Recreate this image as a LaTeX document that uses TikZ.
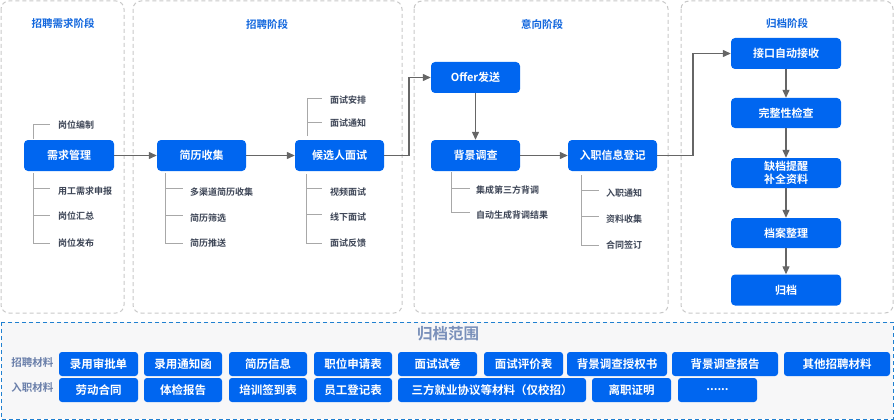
\documentclass[tikz,border=0pt]{standalone}
\usepackage{fontspec}
\setmainfont{Noto Sans CJK SC}[BoldFont={Noto Sans CJK SC Bold}]
\usetikzlibrary{arrows.meta,calc}
\definecolor{boxblue}{HTML}{0066F0}
\definecolor{titleblue}{HTML}{1166DD}
\definecolor{conngray}{HTML}{666666}
\definecolor{treegray}{HTML}{A8A8A8}
\definecolor{subtext}{HTML}{3D4556}
\definecolor{panelgray}{HTML}{C8C8C8}
\definecolor{scopeblue}{HTML}{2080D0}
\definecolor{scopefill}{HTML}{F7F7F8}
\definecolor{scopetitle}{HTML}{7A90BA}
\definecolor{rowlabel}{HTML}{6A7FAA}
\tikzset{
  panel/.style={draw=panelgray, line width=1pt, dash pattern=on 4pt off 3pt, rounded corners=8pt},
  phasetitle/.style={text=titleblue, font=\bfseries\fontsize{10.5}{12}\selectfont, inner sep=0pt},
  blk/.style={fill=boxblue, rounded corners=4pt, text=white, font=\bfseries\fontsize{11}{13}\selectfont, minimum width=89pt, minimum height=31pt, inner sep=0pt, align=center},
  rblk/.style={blk, minimum width=110pt, minimum height=30pt},
  conn/.style={draw=conngray, line width=1.2pt, -{Triangle[length=8pt,width=7pt]}},
  tree/.style={draw=treegray, line width=0.9pt},
  sub/.style={text=subtext, font=\bfseries\fontsize{9}{10}\selectfont, anchor=west, inner sep=0pt},
  mat/.style={fill=boxblue, rounded corners=3pt, text=white, font=\bfseries\fontsize{11.5}{13}\selectfont, minimum height=24pt, inner sep=0pt},
  rowlab/.style={text=rowlabel, font=\bfseries\fontsize{10.5}{12}\selectfont, inner sep=0pt}
}
\begin{document}
\begin{tikzpicture}[x=1pt,y=-1pt]
\useasboundingbox (0,0) rectangle (895,420);
% phase panels
\draw[panel] (1,1) rectangle (124,313);
\draw[panel] (133,1) rectangle (402,313);
\draw[panel] (414,1) rectangle (668,313);
\draw[panel] (681,1) rectangle (893,313);
\node[phasetitle] (T1) at (63,23) {招聘需求阶段};
\node[phasetitle] (T2) at (267,24) {招聘阶段};
\node[phasetitle] (T3) at (542,24) {意向阶段};
\node[phasetitle] (T4) at (787,24) {归档阶段};
% main boxes
\node[blk, minimum width=90pt] (n1) at (69,155.5) {需求管理};
\node[blk] (n2) at (201.5,155.5) {简历收集};
\node[blk] (n3) at (339.5,155.5) {候选人面试};
\node[blk] (n4) at (475.5,77.5) {Offer发送};
\node[blk] (n5) at (475.5,155.5) {背景调查};
\node[blk] (n6) at (612.5,155.5) {入职信息登记};
\node[rblk, minimum height=31pt] (r1) at (786,53.5) {接口自动接收};
\node[rblk] (r2) at (786,113) {完整性检查};
\node[rblk] (r3) at (786,173) {缺档提醒\\补全资料};
\node[rblk] (r4) at (786,233) {档案整理};
\node[rblk, minimum height=31pt] (r5) at (786,290) {归档};
% connectors
\coordinate (c1) at (409,155.5);
\coordinate (c2) at (693,155.5);
\draw[conn] (n1.east) -- (n2.west);
\draw[conn] (n2.east) -- (n3.west);
\draw[conn] (n3.east) -- (c1) |- (n4.west);
\draw[conn] (n4.south) -- (n5.north);
\draw[conn] (n5.east) -- (n6.west);
\draw[conn] (n6.east) -- (c2) |- (r1.west);
\draw[conn] (r1.south) -- (r2.north);
\draw[conn] (r2.south) -- (r3.north);
\draw[conn] (r3.south) -- (r4.north);
\draw[conn] (r4.south) -- (r5.north);
% sub-items: 需求管理
\draw[tree] (33,139) |- (50,124);
\draw[tree] (33,173) |- (50,243);
\draw[tree] (33,188) -- (50,188);
\draw[tree] (33,215) -- (50,215);
\node[sub] (s1a) at (58,125) {岗位编制};
\node[sub] (s1b) at (58,191) {用工需求申报};
\node[sub] (s1c) at (58,216) {岗位汇总};
\node[sub] (s1d) at (58,243) {岗位发布};
% 简历收集
\draw[tree] (165,173) |- (183,243);
\draw[tree] (165,188) -- (183,188);
\draw[tree] (165,215) -- (183,215);
\node[sub] (s2a) at (190,192) {多渠道简历收集};
\node[sub] (s2b) at (190,218) {简历筛选};
\node[sub] (s2c) at (190,243) {简历推送};
% 候选人面试
\draw[tree] (307,136) |- (322,98);
\draw[tree] (307,122) -- (322,122);
\node[sub] (s3a) at (330,100) {面试安排};
\node[sub] (s3b) at (330,123) {面试通知};
\draw[tree] (306,174) |- (322,243);
\draw[tree] (306,188) -- (322,188);
\draw[tree] (306,214) -- (322,214);
\node[sub] (s3c) at (330,192) {视频面试};
\node[sub] (s3d) at (330,217) {线下面试};
\node[sub] (s3e) at (330,243) {面试反馈};
% 背景调查
\draw[tree] (451,172) |- (470,212);
\draw[tree] (451,188) -- (470,188);
\node[sub] (s5a) at (476,190) {集成第三方背调};
\node[sub] (s5b) at (476,215) {自动生成背调结果};
% 入职信息登记
\draw[tree] (581,175) |- (599,245);
\draw[tree] (581,190) -- (599,190);
\draw[tree] (581,216) -- (599,216);
\node[sub] (s6a) at (606,193) {入职通知};
\node[sub] (s6b) at (606,219) {资料收集};
\node[sub] (s6c) at (606,245) {合同签订};
% archive scope
\draw[draw=scopeblue, fill=scopefill, line width=1pt, dash pattern=on 4pt off 3pt] (1,322) rectangle (893,419);
\node[text=scopetitle, font=\bfseries\fontsize{15.5}{17}\selectfont, inner sep=0pt] (st) at (448,334) {归档范围};
\node[rowlab] (L1) at (32.5,363) {招聘材料};
\node[rowlab] (L2) at (32.5,388) {入职材料};
\node[mat, minimum width=79pt] (b1) at (98.5,364) {录用审批单};
\node[mat, minimum width=78pt] (b2) at (183,364) {录用通知函};
\node[mat, minimum width=78pt] (b3) at (268,364) {简历信息};
\node[mat, minimum width=78pt] (b4) at (353,364) {职位申请表};
\node[mat, minimum width=79pt] (b5) at (437.5,364) {面试试卷};
\node[mat, minimum width=79pt] (b6) at (523.5,364) {面试评价表};
\node[mat, minimum width=100pt] (b7) at (617,364) {背景调查授权书};
\node[mat, minimum width=106pt] (b8) at (725,364) {背景调查报告};
\node[mat, minimum width=106pt] (b9) at (837,364) {其他招聘材料};
\node[mat, minimum width=79pt] (b10) at (98.5,390) {劳动合同};
\node[mat, minimum width=78pt] (b11) at (183,390) {体检报告};
\node[mat, minimum width=78pt] (b12) at (268,390) {培训签到表};
\node[mat, minimum width=78pt] (b13) at (353,390) {员工登记表};
\node[mat, minimum width=188pt] (b14) at (492,390) {三方就业协议等材料（仅校招）};
\node[mat, minimum width=79pt] (b15) at (631.5,390) {离职证明};
\node[mat, minimum width=79pt] (b16) at (717.5,390) {......};
\end{tikzpicture}
\end{document}
